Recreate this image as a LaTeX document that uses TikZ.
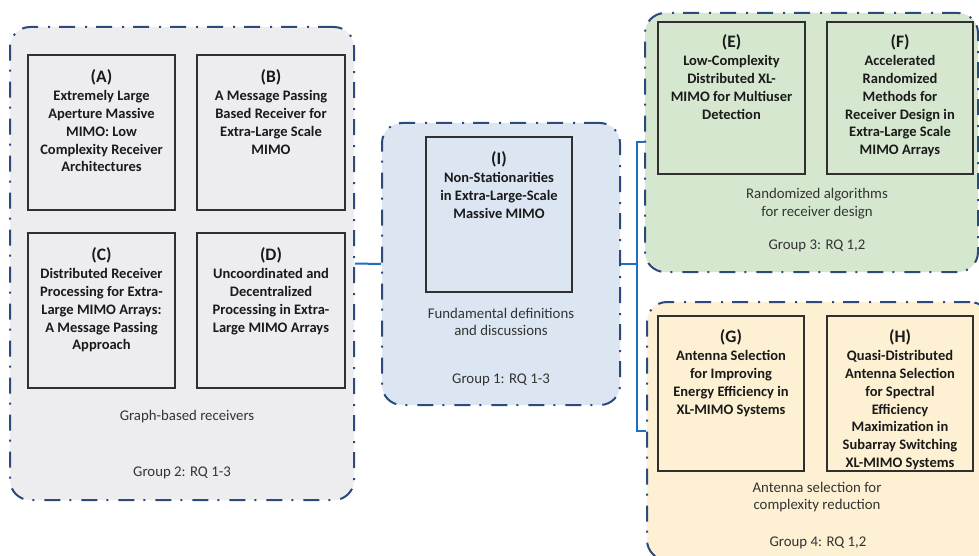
\documentclass[tikz,border=0pt]{standalone}
\usepackage{fontspec}
\setmainfont{Carlito}
\definecolor{bordc}{HTML}{2E4A7D}
\definecolor{linkc}{HTML}{1F6FC0}
\definecolor{fgray}{HTML}{EDEDF0}
\definecolor{fblue}{HTML}{DBE6F2}
\definecolor{fgreen}{HTML}{D5E8CF}
\definecolor{fyellow}{HTML}{FEF0D3}
\definecolor{boxc}{HTML}{303030}
\definecolor{txtc}{HTML}{1A1A1A}
\definecolor{lblc}{HTML}{333333}
\newcommand{\tagl}[1]{{\fontsize{17.5}{18}\selectfont #1}}
\tikzset{
  grp/.style={draw=bordc, line width=2pt, rounded corners=20pt,
    dash pattern=on 16pt off 9pt on 2pt off 10pt, inner sep=0pt},
  paper/.style={draw=boxc, line width=2.6pt, inner sep=0pt},
  ttl/.style={align=center, inner sep=0pt, text=txtc,
    font=\fontsize{14.5}{17.8}\selectfont\bfseries},
  lbl/.style={align=center, inner sep=0pt, text=lblc,
    font=\fontsize{14.8}{17.8}\selectfont},
  link/.style={draw=linkc, line width=2pt},
}
\begin{document}
\begin{tikzpicture}[x=1pt,y=-1pt]
\useasboundingbox (0,0) rectangle (979,556);
\clip (0,0) rectangle (979,556);
% groups
\node[grp, fill=fgray, minimum width=344pt, minimum height=473pt] (g2) at (182,263.5) {};
\node[grp, fill=fblue, minimum width=238pt, minimum height=282pt] (g1) at (501,264) {};
\node[grp, fill=fgreen, minimum width=333pt, minimum height=259pt] (g3) at (811.5,142.5) {};
\node[grp, fill=fyellow, minimum width=343pt, minimum height=258pt] (g4) at (818.5,431) {};
% paper boxes
\node[paper, minimum width=147pt, minimum height=155pt] (A) at (101.5,132.5) {};
\node[paper, minimum width=148pt, minimum height=155pt] (B) at (271,132.5) {};
\node[paper, minimum width=147pt, minimum height=155pt] (C) at (101.5,310.5) {};
\node[paper, minimum width=148pt, minimum height=155pt] (D) at (271,310.5) {};
\node[paper, minimum width=146pt, minimum height=155pt] (I) at (499,214.5) {};
\node[paper, minimum width=147pt, minimum height=152pt] (E) at (731.5,98) {};
\node[paper, minimum width=146pt, minimum height=152pt] (F) at (900,98) {};
\node[paper, minimum width=146pt, minimum height=155pt] (G) at (731,393.5) {};
\node[paper, minimum width=146pt, minimum height=155pt] (H) at (900,393.5) {};
% titles
\node[ttl, anchor=north] (At) at ([yshift=-16pt]A.north) {\tagl{(A)}\\Extremely Large\\Aperture Massive\\MIMO: Low\\Complexity Receiver\\Architectures};
\node[ttl, anchor=north] (Bt) at ([yshift=-16pt]B.north) {\tagl{(B)}\\A Message Passing\\Based Receiver for\\Extra-Large Scale\\MIMO};
\node[ttl, anchor=north] (Ct) at ([yshift=-16pt]C.north) {\tagl{(C)}\\Distributed Receiver\\Processing for Extra-\\Large MIMO Arrays:\\A Message Passing\\Approach};
\node[ttl, anchor=north] (Dt) at ([yshift=-16pt]D.north) {\tagl{(D)}\\Uncoordinated and\\Decentralized\\Processing in Extra-\\Large MIMO Arrays};
\node[ttl, anchor=north] (It) at ([yshift=-16pt]I.north) {\tagl{(I)}\\Non-Stationarities\\in Extra-Large-Scale\\Massive MIMO};
\node[ttl, anchor=north] (Et) at ([yshift=-14pt]E.north) {\tagl{(E)}\\Low-Complexity\\Distributed XL-\\MIMO for Multiuser\\Detection};
\node[ttl, anchor=north] (Ft) at ([yshift=-14pt]F.north) {\tagl{(F)}\\Accelerated\\Randomized\\Methods for\\Receiver Design in\\Extra-Large Scale\\MIMO Arrays};
\node[ttl, anchor=north] (Gt) at ([yshift=-15pt]G.north) {\tagl{(G)}\\Antenna Selection\\for Improving\\Energy Efficiency in\\XL-MIMO Systems};
\node[ttl, anchor=north] (Ht) at ([yshift=-15pt]H.north) {\tagl{(H)}\\Quasi-Distributed\\Antenna Selection\\for Spectral\\Efficiency\\Maximization in\\Subarray Switching\\XL-MIMO Systems};
% group labels
\node[lbl] (g2a) at (187,417) {Graph-based receivers};
\node[lbl] (g2b) at (182,473) {Group 2: RQ 1-3};
\node[lbl] (g1a) at (501,322) {Fundamental definitions\\and discussions};
\node[lbl] (g1b) at (501,380) {Group 1: RQ 1-3};
\node[lbl] (g3a) at (817,204) {Randomized algorithms\\for receiver design};
\node[lbl] (g3b) at (817,246) {Group 3: RQ 1,2};
\node[lbl] (g4a) at (817,497) {Antenna selection for\\complexity reduction};
\node[lbl] (g4b) at (818,543) {Group 4: RQ 1,2};
% connectors
\coordinate (bus) at (637,264);
\draw[link] (g2.east) -- (g1.east -| g1.west);
\draw[link] (g1.east) -- (bus);
\draw[link] (g3.west) -| (bus);
\draw[link] (g4.west) -| (bus);
\end{tikzpicture}
\end{document}
